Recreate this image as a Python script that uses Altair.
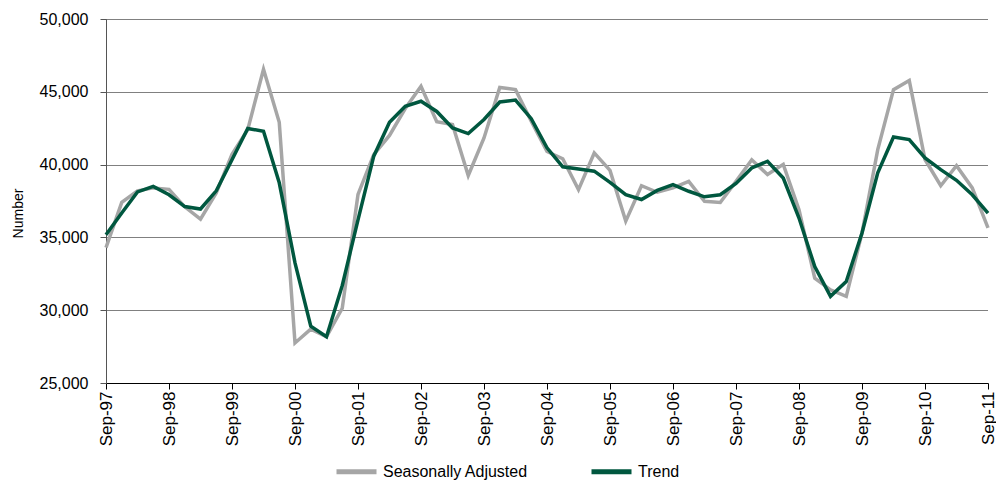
import altair as alt
import pandas as pd

quarters = []
for yr in range(97, 112):
    y = yr % 100
    ny = (yr + 1) % 100
    quarters.append(f"Sep-{y:02d}")
    if yr < 111:
        quarters.append(f"Dec-{y:02d}")
        quarters.append(f"Mar-{ny:02d}")
        quarters.append(f"Jun-{ny:02d}")

year_labels = quarters[::4]

seasonally_adjusted = [
    34300, 37400, 38200, 38400, 38300, 37100, 36250, 38050, 40700, 42400,
    46550, 42900, 27750, 28700, 28180, 30130, 37950, 40690, 42000, 43850,
    45380, 42950, 42750, 39250, 41830, 45300, 45150, 42980, 40900, 40400,
    38280, 40800, 39600, 36120, 38550, 38100, 38400, 38850, 37480, 37400,
    38850, 40330, 39320, 40020, 36900, 32200, 31400, 30950, 35300, 41030,
    45150, 45780, 40350, 38550, 39920, 38400, 35650,
]

trend = [
    35180, 36670, 38120, 38500, 37930, 37120, 36950, 38200, 40330, 42480,
    42290, 38750, 33250, 28900, 28180, 31700, 36200, 40580, 42900, 44010,
    44350, 43650, 42520, 42130, 43100, 44300, 44430, 43150, 41150, 39850,
    39700, 39550, 38780, 37930, 37600, 38230, 38620, 38170, 37790, 37930,
    38700, 39770, 40230, 39080, 36330, 33000, 30950, 31970, 35300, 39430,
    41900, 41720, 40460, 39650, 38920, 37930, 36670,
]

series_names = ["Seasonally Adjusted", "Trend"]
series_colors = ["#A6A6A6", "#00573F"]

rows = []
for name, vals in zip(series_names, [seasonally_adjusted, trend]):
    for i, (q, v) in enumerate(zip(quarters, vals)):
        rows.append({"quarter": q, "idx": i, "series": name, "value": v})
df = pd.DataFrame(rows)

FONT = "Liberation Sans, Arial, sans-serif"

chart = alt.Chart(df).mark_line(strokeWidth=3.5).encode(
    x=alt.X(
        "quarter:O",
        sort=quarters,
        scale=alt.Scale(type="point", padding=0),
        axis=alt.Axis(
            values=year_labels,
            title=None,
            labelAngle=270,
            labelFont=FONT,
            labelFontSize=17,
            labelColor="#000000",
            labelPadding=2,
            tickSize=6,
            tickColor="#000000",
            domainColor="#000000",
            grid=False,
        ),
    ),
    y=alt.Y(
        "value:Q",
        scale=alt.Scale(domain=[25000, 50000], nice=False, zero=False),
        axis=alt.Axis(
            values=[25000, 30000, 35000, 40000, 45000, 50000],
            format=",.0f",
            title="Number",
            titleFont=FONT,
            titleFontSize=14,
            titleFontWeight="normal",
            titleColor="#000000",
            titleX=-88,
            titleY=194,
            titleAngle=270,
            titleAlign="center",
            titleBaseline="middle",
            labelFont=FONT,
            labelFontSize=16,
            labelColor="#000000",
            labelPadding=12,
            tickSize=6,
            tickColor="#555555",
            domainColor="#555555",
            grid=True,
            gridColor="#000000",
            gridDash=[1, 1],
            gridWidth=1,
        ),
    ),
    color=alt.Color(
        "series:N",
        scale=alt.Scale(domain=series_names, range=series_colors),
        legend=alt.Legend(
            title=None,
            orient="none",
            legendX=228,
            legendY=430,
            direction="horizontal",
            symbolType="stroke",
            symbolSize=1600,
            symbolStrokeWidth=5,
            labelFont=FONT,
            labelFontSize=16,
            labelColor="#000000",
            labelOffset=4,
            labelLimit=400,
            columnPadding=53,
        ),
    ),
    detail="series:N",
    order="idx:Q",
).properties(
    width=882,
    height=364,
    padding={"left": 98, "top": 11, "right": 8, "bottom": 100},
    autosize=alt.AutoSizeParams(type="none"),
).configure_view(strokeOpacity=0)

chart.save("out.html", embed_options={"renderer": "svg", "actions": False})
